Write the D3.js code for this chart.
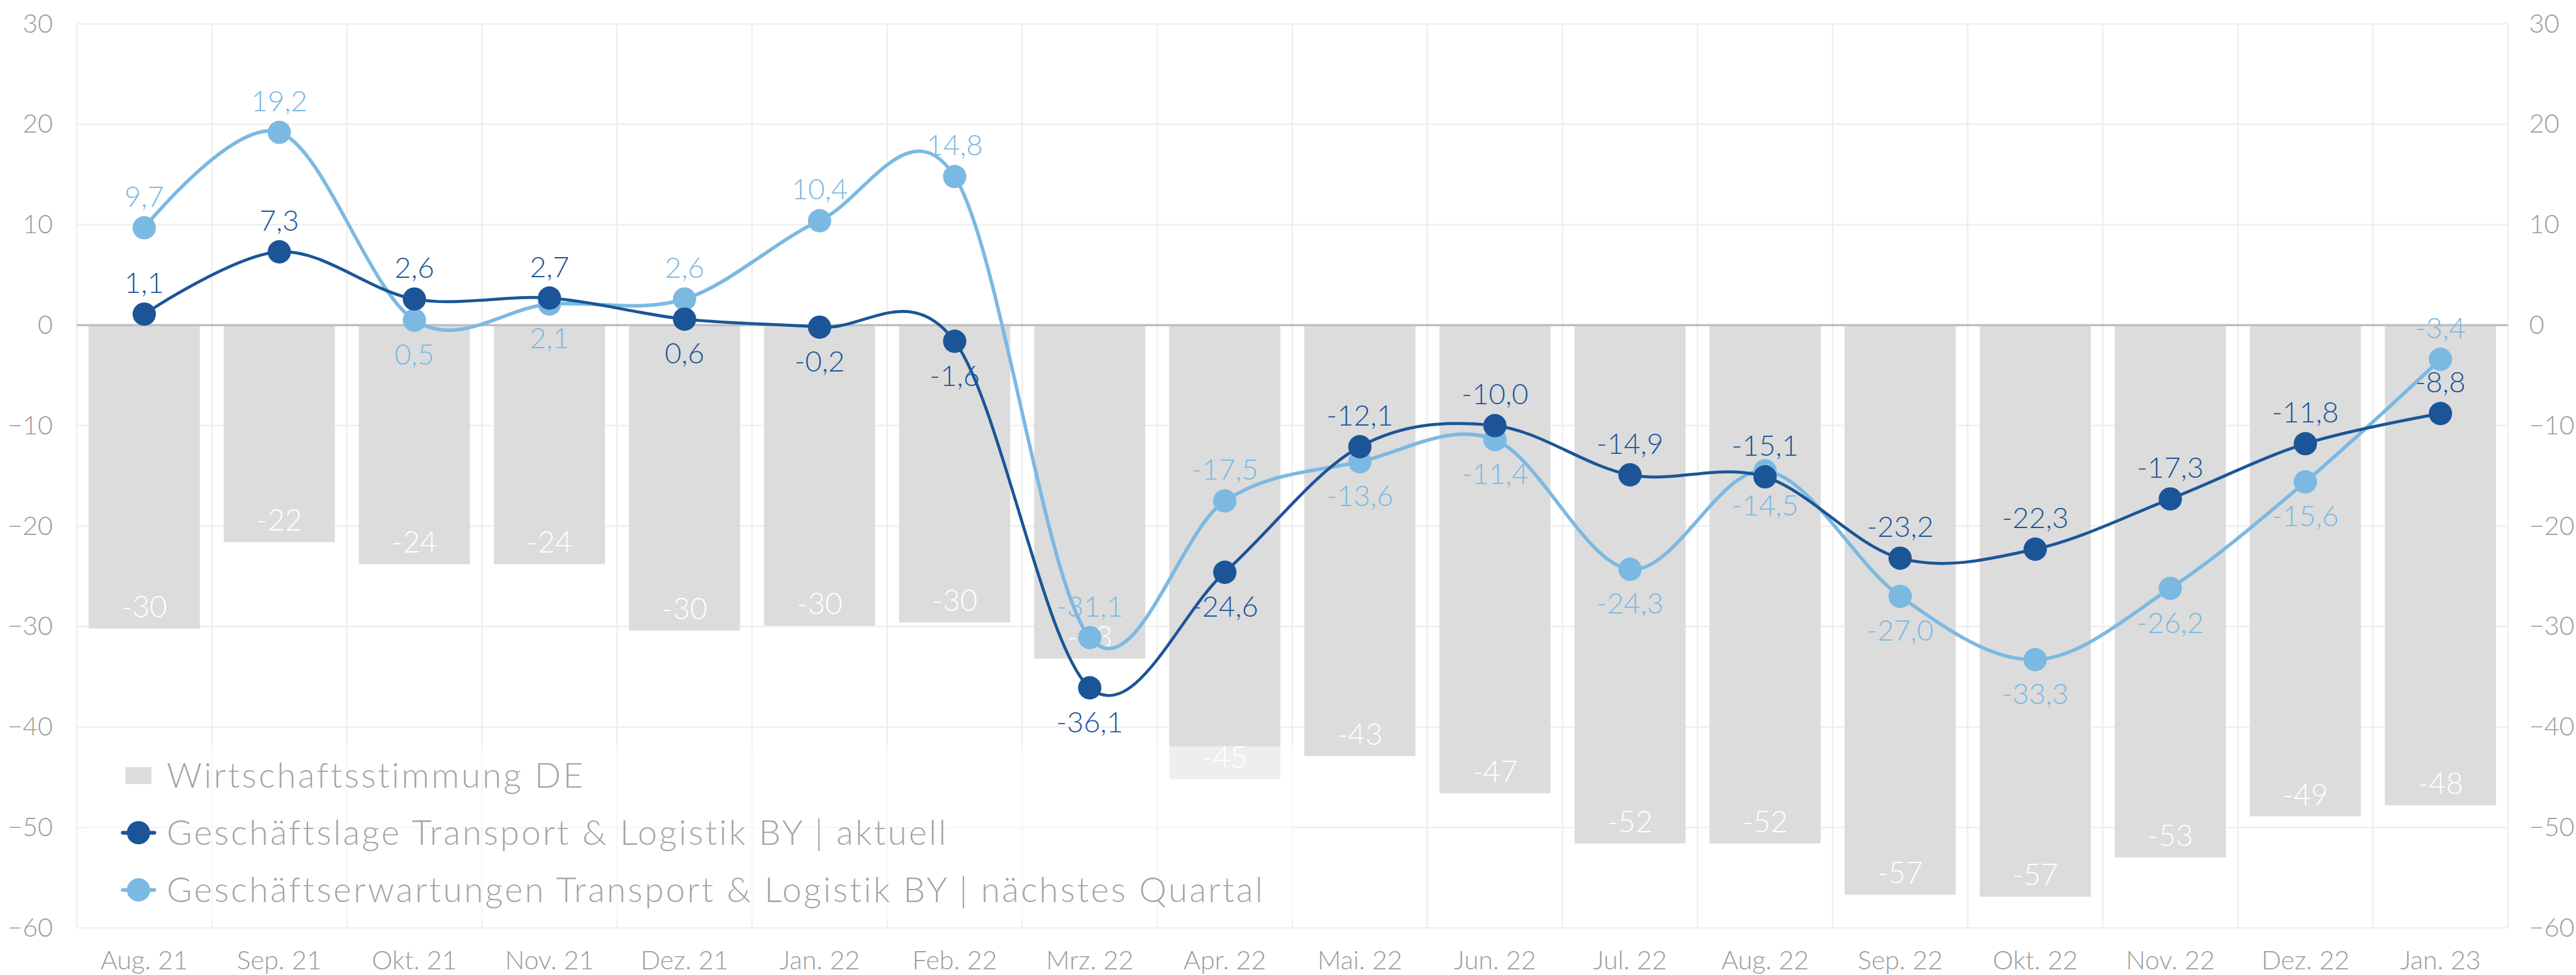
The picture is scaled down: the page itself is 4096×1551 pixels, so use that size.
<!DOCTYPE html>
<html>
<head>
<meta charset="utf-8">
<script src="https://cdn.jsdelivr.net/npm/d3@7"></script>
<style>
    body { margin: 0; background: #fff; }
    svg { display: block; }
    text { font-family: Lato, "Noto Sans", sans-serif; font-weight: 300; }
</style>
</head>
<body>
<div id="d3_chart"></div>
<script>
// data
const months = ["Aug. 21", "Sep. 21", "Okt. 21", "Nov. 21", "Dez. 21", "Jan. 22", "Feb. 22", "Mrz. 22", "Apr. 22",
    "Mai. 22", "Jun. 22", "Jul. 22", "Aug. 22", "Sep. 22", "Okt. 22", "Nov. 22", "Dez. 22", "Jan. 23"];
const stimmungDE = [-30.2, -21.6, -23.8, -23.8, -30.4, -29.9, -29.6, -33.2, -45.2,
    -42.9, -46.6, -51.6, -51.6, -56.7, -56.9, -53.0, -48.9, -47.8];
const lageAktuell = [1.1, 7.3, 2.6, 2.7, 0.6, -0.2, -1.6, -36.1, -24.6,
    -12.1, -10.0, -14.9, -15.1, -23.2, -22.3, -17.3, -11.8, -8.8];
const erwartungQuartal = [9.7, 19.2, 0.5, 2.1, 2.6, 10.4, 14.8, -31.1, -17.5,
    -13.6, -11.4, -24.3, -14.5, -27.0, -33.3, -26.2, -15.6, -3.4];
const yTicks = [-60, -50, -40, -30, -20, -10, 0, 10, 20, 30];
const legendNames = ["Wirtschaftsstimmung DE",
    "Geschäftslage Transport & Logistik BY | aktuell",
    "Geschäftserwartungen Transport & Logistik BY | nächstes Quartal"];
// which side of the point each value label sits on (1 = above, 0 = below)
const lageAbove = [1, 1, 1, 1, 0, 0, 0, 0, 0, 1, 1, 1, 1, 1, 1, 1, 1, 1];
const erwartungAbove = [1, 1, 0, 0, 1, 1, 1, 1, 1, 0, 0, 0, 0, 0, 0, 0, 0, 1];

const W = 4750, H = 1799;
const plotLeft = 141, plotRight = 4625, plotTop = 44, plotBottom = 1712;
const darkBlue = "#1b5598", lightBlue = "#7bb9e2", barGrey = "#dcdcdc", gridGrey = "#efefef", axisGrey = "#9b9b9b";

const svg = d3.select("#d3_chart")
    .append("svg")
    .attr("width", 4096)
    .attr("height", 1551)
    .attr("viewBox", `0 0 ${W} ${H}`);

const x = d3.scaleBand()
    .domain(months)
    .range([plotLeft, plotRight])
    .paddingInner(0.177)
    .paddingOuter(0.0885);
const cx = m => x(m) + x.bandwidth() / 2;

const y = d3.scaleLinear()
    .domain([-60, 30])
    .range([plotBottom, plotTop]);

const fmt = v => d3.format(".1f")(v).replace(".", ",").replace("−", "-");

// grid
const grid = svg.append("g");
grid.selectAll("line.h")
    .data(yTicks)
    .enter()
    .append("line")
    .attr("x1", plotLeft).attr("x2", plotRight)
    .attr("y1", d => y(d)).attr("y2", d => y(d))
    .attr("stroke", gridGrey)
    .attr("stroke-width", 3);
grid.selectAll("line.v")
    .data(d3.range(months.length + 1))
    .enter()
    .append("line")
    .attr("x1", i => plotLeft + i * x.step()).attr("x2", i => plotLeft + i * x.step())
    .attr("y1", plotTop).attr("y2", plotBottom)
    .attr("stroke", gridGrey)
    .attr("stroke-width", 3);

// bars
svg.selectAll("rect.bar")
    .data(stimmungDE)
    .enter()
    .append("rect")
    .attr("class", "bar")
    .attr("x", (d, i) => x(months[i]))
    .attr("y", y(0))
    .attr("width", x.bandwidth())
    .attr("height", d => y(d) - y(0))
    .attr("fill", barGrey);

svg.selectAll("text.barlabel")
    .data(stimmungDE)
    .enter()
    .append("text")
    .attr("x", (d, i) => cx(months[i]))
    .attr("y", d => y(d) - 21)
    .attr("text-anchor", "middle")
    .style("font-size", "55px")
    .attr("fill", "#ffffff")
    .text(d => String(Math.round(d)));

// zero line
svg.append("line")
    .attr("x1", plotLeft).attr("x2", plotRight)
    .attr("y1", y(0)).attr("y2", y(0))
    .attr("stroke", "#bfbfbf")
    .attr("stroke-width", 4);

// axes
const yLeft = svg.append("g")
    .attr("transform", "translate(97,0)")
    .call(d3.axisLeft(y).tickValues(yTicks).tickSize(0).tickPadding(0));
const yRight = svg.append("g")
    .attr("transform", "translate(4664,0)")
    .call(d3.axisRight(y).tickValues(yTicks).tickSize(0).tickPadding(0));
const xAxis = svg.append("g")
    .attr("transform", `translate(0,${plotBottom})`)
    .call(d3.axisBottom(x).tickSize(0));
xAxis.selectAll("text").attr("y", 76).attr("dy", 0);
[yLeft, yRight, xAxis].forEach(g => {
    g.select(".domain").remove();
    g.selectAll("text")
        .attr("fill", axisGrey)
        .style("font-size", "48px")
        .style("font-family", "Lato, 'Noto Sans', sans-serif");
});

// lines
const curve = d3.curveCatmullRom.alpha(0);
function drawSeries(values, above, color, width) {
    const line = d3.line()
        .x((d, i) => cx(months[i]))
        .y(d => y(d))
        .curve(curve);
    svg.append("path")
        .datum(values)
        .attr("fill", "none")
        .attr("stroke", color)
        .attr("stroke-width", width)
        .attr("d", line);
    svg.append("g").selectAll("circle")
        .data(values)
        .enter()
        .append("circle")
        .attr("cx", (d, i) => cx(months[i]))
        .attr("cy", d => y(d))
        .attr("r", 21.5)
        .attr("fill", color);
    return () => svg.append("g").selectAll("text")
        .data(values)
        .enter()
        .append("text")
        .attr("x", (d, i) => cx(months[i]))
        .attr("y", (d, i) => above[i] ? y(d) - 39 : y(d) + 82)
        .attr("text-anchor", "middle")
        .style("font-size", "53px")
        .attr("fill", color)
        .text(d => fmt(d));
}
const labelsErw = drawSeries(erwartungQuartal, erwartungAbove, lightBlue, 6.5);
const labelsLage = drawSeries(lageAktuell, lageAbove, darkBlue, 5.5);
labelsErw();
labelsLage();

// legend
const legend = svg.append("g");
legend.append("rect")
    .attr("x", 157).attr("y", 1377)
    .attr("width", 2228).attr("height", 321)
    .attr("fill", "#ffffff")
    .attr("fill-opacity", 0.5);
const rowY = i => 1431 + i * 105.5;
const items = legend.selectAll("g.item")
    .data(legendNames)
    .enter()
    .append("g")
    .attr("transform", (d, i) => `translate(0,${rowY(i)})`);
items.filter((d, i) => i === 0)
    .append("rect")
    .attr("x", 231).attr("y", -15.5)
    .attr("width", 48).attr("height", 31)
    .attr("fill", barGrey);
items.filter((d, i) => i > 0)
    .each(function (d, i) {
        const color = i === 0 ? darkBlue : lightBlue;
        const g = d3.select(this);
        g.append("line")
            .attr("x1", 226).attr("x2", 284)
            .attr("stroke", color)
            .attr("stroke-width", 7)
            .attr("stroke-linecap", "round");
        g.append("circle")
            .attr("cx", 255)
            .attr("r", 21.5)
            .attr("fill", color);
    });
items.append("text")
    .attr("x", 307)
    .attr("dy", "0.35em")
    .style("font-size", "64px")
    .style("letter-spacing", "3.7px")
    .attr("fill", "#a5a5a5")
    .text(d => d);
</script>
</body>
</html>
